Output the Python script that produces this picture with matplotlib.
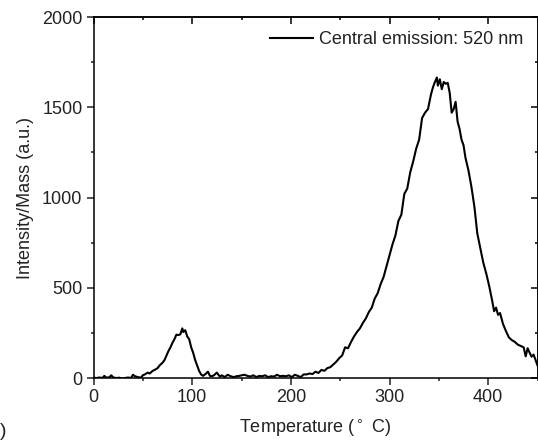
import matplotlib.pyplot as plt
from matplotlib.ticker import MultipleLocator

plt.rcParams['font.family'] = ['Liberation Sans', 'DejaVu Sans']

# glow curve (temperature in deg C, intensity per mass)
temperature = [
    0, 3, 6, 9, 11, 13, 16, 18, 20, 23, 26, 29, 32, 35, 38, 40, 42, 45, 48, 50,
    52, 55, 57, 60, 62, 65, 67, 70, 72, 74, 76, 78, 80, 82, 84, 86, 88, 90, 91, 93,
    95, 97, 99, 101, 103, 105, 107, 109, 111, 113, 116, 118, 120, 122, 125, 128, 130, 133, 136, 139,
    142, 145, 148, 150, 153, 156, 159, 162, 165, 168, 171, 174, 177, 180, 183, 186, 189, 192, 195, 198,
    201, 204, 207, 210, 213, 216, 219, 222, 225, 228, 231, 234, 237, 240, 243, 246, 249, 252, 255, 258,
    261, 264, 267, 270, 273, 276, 279, 282, 285, 288, 291, 294, 297, 300, 303, 306, 309, 312, 315, 318,
    321, 324, 327, 330, 333, 336, 339, 342, 344, 346, 348, 349, 351, 353, 355, 357, 359, 361, 363, 365,
    367, 369, 371, 373, 375, 377, 380, 383, 386, 389, 392, 395, 398, 401, 404, 406, 408, 410, 412, 415,
    418, 421, 424, 427, 430, 432, 434, 436, 438, 440, 442, 444, 446, 448, 450,
]
intensity = [
    2, 0, 3, 0, 12, 2, 4, 15, 3, 0, 2, -3, 0, 3, 0, 18, 10, 5, 2, 15,
    20, 30, 25, 40, 45, 55, 70, 85, 100, 125, 150, 170, 195, 215, 240, 238, 242, 275, 255, 265,
    230, 215, 170, 140, 100, 70, 40, 20, 12, 20, 35, 12, 10, 15, 30, 8, 15, 5, 18, 10,
    5, 10, 12, 15, 18, 12, 8, 15, 5, 12, 10, 15, 5, 10, 8, 18, 10, 12, 10, 15,
    5, 18, 12, 5, 20, 20, 25, 22, 35, 28, 45, 40, 55, 60, 75, 90, 110, 125, 170, 165,
    200, 230, 255, 275, 305, 330, 365, 390, 440, 470, 520, 560, 620, 680, 740, 790, 870, 905, 1020, 1050,
    1140, 1200, 1270, 1320, 1440, 1470, 1490, 1570, 1610, 1640, 1665, 1620, 1655, 1600, 1640, 1630, 1635, 1580, 1470, 1490,
    1530, 1420, 1380, 1320, 1290, 1220, 1150, 1060, 950, 800, 720, 640, 580, 510, 430, 370, 390, 350, 360, 300,
    260, 225, 210, 200, 185, 180, 175, 170, 120, 165, 140, 118, 130, 100, 70,
]
series_label = "Central emission: 520 nm"

TXT = "#222222"

fig = plt.figure(figsize=(5.38, 4.44), dpi=100)
ax = fig.add_axes([0.1738, 0.1486, 0.8253, 0.8131])

ax.plot(temperature, intensity, color="black", linewidth=1.5, label=series_label)

ax.set_xlim(0, 450)
ax.set_ylim(0, 2000)
ax.xaxis.set_major_locator(MultipleLocator(100))
ax.xaxis.set_minor_locator(MultipleLocator(50))
ax.yaxis.set_major_locator(MultipleLocator(500))
ax.yaxis.set_minor_locator(MultipleLocator(250))

# bottom / left ticks point out
ax.tick_params(which="both", direction="out", width=1.1, labelsize=13, colors=TXT)
ax.tick_params(which="major", length=5, pad=3)
ax.tick_params(which="minor", length=2.5)

# top / right ticks point in, no labels
top = ax.secondary_xaxis("top")
top.xaxis.set_major_locator(MultipleLocator(100))
top.xaxis.set_minor_locator(MultipleLocator(50))
top.tick_params(which="both", direction="in", width=1.1, labeltop=False)
top.tick_params(which="major", length=5)
top.tick_params(which="minor", length=2.5)
right = ax.secondary_yaxis("right")
right.yaxis.set_major_locator(MultipleLocator(500))
right.yaxis.set_minor_locator(MultipleLocator(250))
right.tick_params(which="both", direction="in", width=1.1, labelright=False)
right.tick_params(which="major", length=5)
right.tick_params(which="minor", length=2.5)

for spine in list(ax.spines.values()) + list(top.spines.values()) + list(right.spines.values()):
    spine.set_linewidth(1.1)

ax.set_xlabel("Temperature ($^\\circ$ C)", fontsize=13, labelpad=8, color=TXT)
ax.set_ylabel("Intensity/Mass (a.u.)", fontsize=13, labelpad=6, color=TXT)

ax.legend(loc="upper right", frameon=False, fontsize=13, handlelength=2.4,
          handletextpad=0.3, borderaxespad=0.4, labelcolor=TXT)

# panel letter remnant at the bottom-left edge
fig.text(0.0, 0.028, ")", fontsize=14, color=TXT, ha="left", va="center")

fig.savefig("out.png", dpi=100)
